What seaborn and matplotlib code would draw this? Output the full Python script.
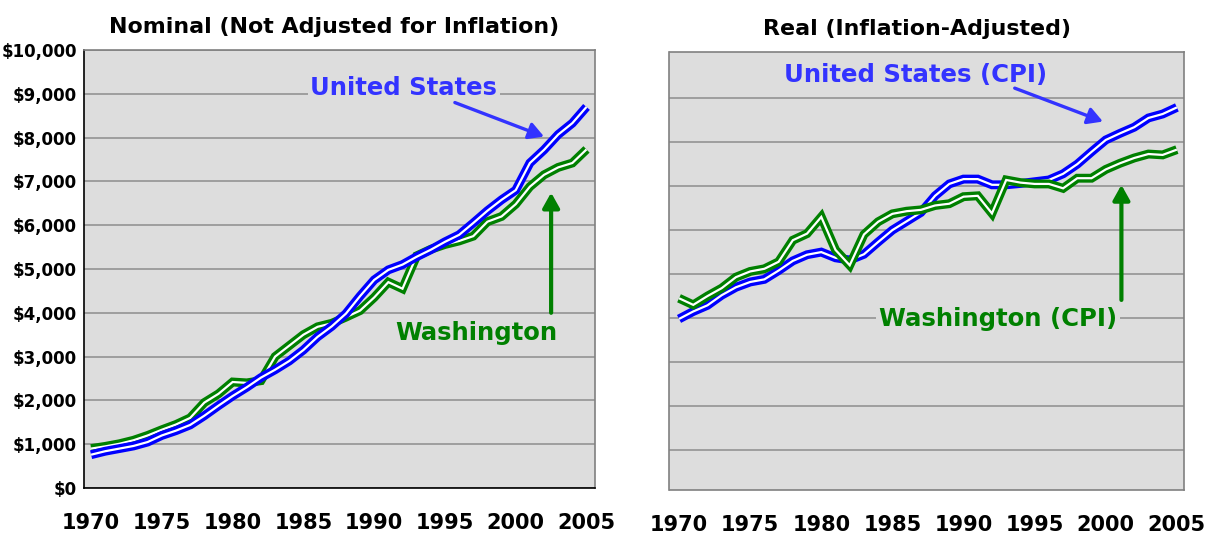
import matplotlib
matplotlib.use("Agg")
import matplotlib.pyplot as plt
import seaborn as sns
from matplotlib.ticker import FuncFormatter

# ---------------- data ----------------
years = list(range(1970, 2006))
us_nominal = [760, 840, 900, 960, 1050, 1200, 1310, 1440, 1650, 1880,
              2100, 2300, 2520, 2700, 2900, 3150, 3450, 3690, 3980, 4380,
              4750, 4980, 5100, 5280, 5440, 5620, 5780, 6050, 6330, 6580,
              6800, 7420, 7720, 8070, 8330, 8700]
wa_nominal = [900, 950, 1010, 1090, 1200, 1330, 1450, 1600, 1950, 2150,
              2420, 2400, 2450, 3000, 3250, 3500, 3680, 3760, 3900, 4050,
              4350, 4700, 4550, 5300, 5450, 5560, 5640, 5750, 6080, 6200,
              6480, 6880, 7150, 7320, 7420, 7730]
us_real = [3980, 4150, 4290, 4520, 4700, 4820, 4880, 5080, 5300, 5440,
           5500, 5370, 5320, 5450, 5730, 6000, 6200, 6400, 6780, 7050,
           7160, 7160, 7030, 7030, 7060, 7100, 7140, 7280, 7500, 7780,
           8050, 8200, 8340, 8550, 8640, 8790]
wa_real = [4450, 4300, 4500, 4680, 4930, 5060, 5120, 5280, 5770, 5920,
           6300, 5550, 5200, 5900, 6190, 6370, 6430, 6460, 6560, 6600,
           6760, 6780, 6380, 7140, 7080, 7050, 7050, 6950, 7180, 7180,
           7380, 7520, 7640, 7730, 7710, 7830]
x_ticks = [1970, 1975, 1980, 1985, 1990, 1995, 2000, 2005]
y_ticks_nominal = list(range(0, 10001, 1000))
y_ticks_real = list(range(1000, 9001, 1000))

titles = ["Nominal (Not Adjusted for Inflation)", "Real (Inflation-Adjusted)"]
labels_left = ["United States", "Washington"]
labels_right = ["United States (CPI)", "Washington (CPI)"]

# ---------------- style ----------------
sns.set_style("white")
plt.rcParams["font.family"] = ["DejaVu Sans"]
plt.rcParams["font.weight"] = "bold"
plt.rcParams["text.color"] = "black"
plt.rcParams["xtick.labelcolor"] = "black"
plt.rcParams["ytick.labelcolor"] = "black"

BLUE_LINE = "#0000FF"
BLUE_TEXT = "#3333FF"
GREEN = "#008000"
BG = "#DDDDDD"
GRID = "#999999"
SPINE_GRAY = "#808080"

W, H = 1219, 537
fig = plt.figure(figsize=(W / 100, H / 100), dpi=100)
ax1 = fig.add_axes([84 / W, 1 - 488 / H, (595 - 84) / W, (488 - 50) / H])
ax2 = fig.add_axes([669.5 / W, 1 - 490 / H, (1184 - 669.5) / W, (490 - 52) / H])


def draw_series(ax, vals, color, z):
    sns.lineplot(x=years, y=vals, ax=ax, color=color, zorder=z)
    ln = ax.lines[-1]
    ln.set_linewidth(6.4)
    ln.set_solid_joinstyle("miter")
    ln.set_solid_capstyle("butt")
    sns.lineplot(x=years, y=vals, ax=ax, color="white", zorder=z + 0.5)
    ln = ax.lines[-1]
    ln.set_linewidth(1.6)
    ln.set_solid_joinstyle("miter")
    ln.set_solid_capstyle("butt")


# left: blue on top ; right: green on top
draw_series(ax1, wa_nominal, GREEN, 3)
draw_series(ax1, us_nominal, BLUE_LINE, 4)
draw_series(ax2, us_real, BLUE_LINE, 3)
draw_series(ax2, wa_real, GREEN, 4)

title_x = [0.49, 0.481]
for ax, title, tx in zip([ax1, ax2], titles, title_x):
    ax.set_facecolor(BG)
    ax.set_xticks(x_ticks)
    ax.set_xticklabels([str(t) for t in x_ticks])
    ax.set_xlabel("")
    ax.set_ylabel("")
    ax.grid(axis="y", color=GRID, linewidth=1.3, zorder=1)
    ax.set_axisbelow(True)
    ax.tick_params(axis="x", length=3, width=1, pad=15, labelsize=15,
                   direction="out")
    ax.tick_params(axis="y", length=0, pad=5, labelsize=12)
    ax.set_title(title, fontsize=15.9, fontweight="bold", pad=12,
                 color="black", x=tx)
    for s in ax.spines.values():
        s.set_visible(True)
        s.set_linewidth(1.2)

ax1.set_xlim(1969.5, 2005.6)
ax2.set_xlim(1969.33, 2005.5)

ax1.set_ylim(0, 10000)
ax1.set_yticks(y_ticks_nominal)
ax1.yaxis.set_major_formatter(FuncFormatter(lambda v, p: "${:,.0f}".format(v)))
ax1.spines["left"].set_color("black")
ax1.spines["bottom"].set_color("black")
ax1.spines["top"].set_color(SPINE_GRAY)
ax1.spines["right"].set_color(SPINE_GRAY)
ax1.tick_params(axis="x", color="black")

ax2.set_ylim(90, 10050)
ax2.set_yticks(y_ticks_real)
ax2.set_yticklabels([])
for s in ax2.spines.values():
    s.set_color(SPINE_GRAY)
ax2.tick_params(axis="x", color=SPINE_GRAY)

box = dict(boxstyle="square,pad=0.12", facecolor=BG, edgecolor="none")
arrow_blue = dict(arrowstyle="-|>,head_length=0.5,head_width=0.28",
                  color=BLUE_TEXT, lw=2.4, shrinkA=0, shrinkB=0,
                  mutation_scale=18)
arrow_green = dict(arrowstyle="-|>,head_length=0.5,head_width=0.28",
                   color=GREEN, lw=3.0, shrinkA=0, shrinkB=0,
                   mutation_scale=18)

# left panel annotations
ax1.text(1992.1, 9143, labels_left[0], color=BLUE_TEXT, fontsize=17.5,
         fontweight="bold", ha="center", va="center", bbox=box, zorder=6)
ax1.annotate("", xy=(2002.0, 8023), xytext=(1995.7, 8800),
             arrowprops=arrow_blue, zorder=6)
ax1.text(1997.2, 3543, labels_left[1], color=GREEN, fontsize=17.5,
         fontweight="bold", ha="center", va="center", bbox=box, zorder=6)
ax1.annotate("", xy=(2002.5, 6743), xytext=(2002.5, 4000),
             arrowprops=arrow_green, zorder=6)

# right panel annotations
ax2.text(1986.6, 9530, labels_right[0], color=BLUE_TEXT, fontsize=17.6,
         fontweight="bold", ha="center", va="center", bbox=box, zorder=6)
ax2.annotate("", xy=(1999.8, 8468), xytext=(1993.6, 9228),
             arrowprops=arrow_blue, zorder=6)
ax2.text(1992.4, 3980, labels_right[1], color=GREEN, fontsize=17.6,
         fontweight="bold", ha="center", va="center", bbox=box, zorder=6)
ax2.annotate("", xy=(2001.1, 7028), xytext=(2001.1, 4412),
             arrowprops=arrow_green, zorder=6)

fig.savefig("out.png", dpi=100, facecolor="white")
